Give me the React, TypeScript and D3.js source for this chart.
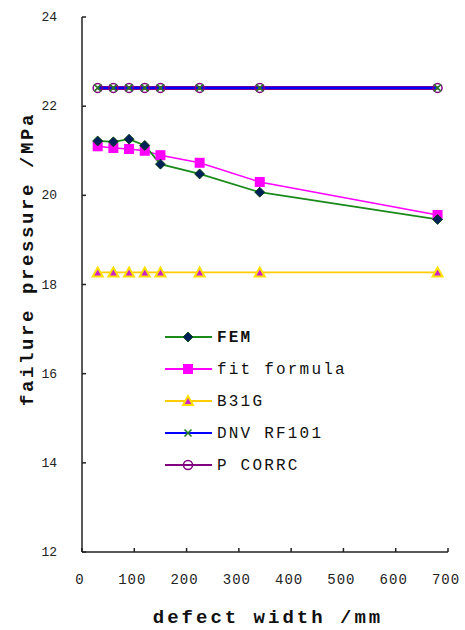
import React from 'react';
import * as d3 from 'd3';

const widths = [30, 60, 90, 120, 150, 225, 340, 680];
const femValues = [21.22, 21.2, 21.26, 21.12, 20.7, 20.48, 20.07, 19.46];
const fitValues = [21.1, 21.06, 21.04, 21.0, 20.9, 20.73, 20.3, 19.56];
const b31gValues = [18.27, 18.27, 18.27, 18.27, 18.27, 18.27, 18.27, 18.27];
const dnvValues = [22.41, 22.41, 22.41, 22.41, 22.41, 22.41, 22.41, 22.41];
const pcorrcValues = [22.41, 22.41, 22.41, 22.41, 22.41, 22.41, 22.41, 22.41];

const xTicks = [0, 100, 200, 300, 400, 500, 600, 700];
const yTicks = [12, 14, 16, 18, 20, 22, 24];

const seriesNames = ['FEM', 'fit formula', 'B31G', 'DNV RF101', 'P CORRC'];

const W = 465;
const H = 630;
const left = 82;
const right = 448;
const top = 17;
const bottom = 552;

const x = d3.scaleLinear().domain([0, 700]).range([left, right]);
const y = d3.scaleLinear().domain([12, 24]).range([bottom, top]);

const lineGen = d3
    .line<[number, number]>()
    .x(d => x(d[0]))
    .y(d => y(d[1]));

const pts = (vals: number[]) => widths.map((w, i) => [w, vals[i]] as [number, number]);

const Diamond = ({ cx, cy }: { cx: number; cy: number }) => (
    <path d={`M${cx},${cy - 5}L${cx + 5},${cy}L${cx},${cy + 5}L${cx - 5},${cy}Z`} fill="#00205a" stroke="#004400" strokeWidth={0.8} />
);
const Square = ({ cx, cy }: { cx: number; cy: number }) => (
    <rect x={cx - 5} y={cy - 5} width={10} height={10} fill="#ff00ff" />
);
const Triangle = ({ cx, cy }: { cx: number; cy: number }) => (
    <path d={`M${cx},${cy - 5}L${cx + 5},${cy + 4}L${cx - 5},${cy + 4}Z`} fill="#cc22cc" stroke="#ffe000" strokeWidth={2} />
);
const Cross = ({ cx, cy }: { cx: number; cy: number }) => (
    <path d={`M${cx - 3.5},${cy - 3.5}L${cx + 3.5},${cy + 3.5}M${cx + 3.5},${cy - 3.5}L${cx - 3.5},${cy + 3.5}`} stroke="#2a7a2a" strokeWidth={1.6} />
);
const Circle = ({ cx, cy }: { cx: number; cy: number }) => (
    <circle cx={cx} cy={cy} r={4.5} fill="none" stroke="#800080" strokeWidth={1.5} />
);

const series = [
    { name: seriesNames[0], vals: femValues, color: '#1a8a1a', Marker: Diamond, sw: 1.8 },
    { name: seriesNames[1], vals: fitValues, color: '#ff00ff', Marker: Square, sw: 1.6 },
    { name: seriesNames[2], vals: b31gValues, color: '#ffcc00', Marker: Triangle, sw: 1.8 },
    { name: seriesNames[3], vals: dnvValues, color: '#0000ff', Marker: Cross, sw: 2.4 },
    { name: seriesNames[4], vals: pcorrcValues, color: '#800080', Marker: Circle, sw: 4 },
];

// PCORRC sits under DNV
const drawOrder = [4, 3, 2, 1, 0];

export default function App() {
    const font = '"Liberation Mono", monospace';
    return (
        <svg width={W} height={H} style={{ position: 'absolute', left: 0, top: 0, background: '#fff' }}>
            <rect width={W} height={H} fill="#fff" />
            <line x1={left} y1={top} x2={left} y2={bottom} stroke="#222" strokeWidth={1.5} />
            <line x1={left} y1={bottom} x2={right} y2={bottom} stroke="#222" strokeWidth={1.5} />
            {yTicks.map(t => (
                <g key={t}>
                    <line x1={left} x2={left + 4} y1={y(t)} y2={y(t)} stroke="#222" strokeWidth={1.5} />
                    <text x={left - 25} y={y(t) + 4} textAnchor="end" fontSize={13} fontFamily={font} fill="#222">
                        {t}
                    </text>
                </g>
            ))}
            {xTicks.map(t => (
                <g key={t}>
                    <line x1={x(t)} x2={x(t)} y1={bottom} y2={bottom - 4} stroke="#222" strokeWidth={1.5} />
                    <text x={x(t) - 2} y={bottom + 32} textAnchor="middle" fontSize={14} fontFamily={font} fill="#222" letterSpacing={1}>
                        {t}
                    </text>
                </g>
            ))}
            {drawOrder.map(i => {
                const s = series[i];
                return <path key={s.name} d={lineGen(pts(s.vals)) || ''} fill="none" stroke={s.color} strokeWidth={s.sw} />;
            })}
            {drawOrder.map(i => {
                const s = series[i];
                const M = s.Marker;
                return (
                    <g key={s.name + '-m'}>
                        {pts(s.vals).map((p, j) => (
                            <M key={j} cx={x(p[0])} cy={y(p[1])} />
                        ))}
                    </g>
                );
            })}
            {series.map((s, i) => {
                const ly = 337 + i * 32;
                const M = s.Marker;
                return (
                    <g key={'leg' + i}>
                        <line x1={165} x2={212} y1={ly} y2={ly} stroke={s.color} strokeWidth={2} />
                        <M cx={188} cy={ly} />
                        <text x={217} y={ly + 5} fontSize={16} fontFamily={font} fill="#111" fontWeight={i === 0 ? 'bold' : 'normal'} letterSpacing={2.2}>
                            {s.name}
                        </text>
                    </g>
                );
            })}
            <text x={268} y={623} textAnchor="middle" fontSize={19} fontWeight="bold" fontFamily={font} fill="#111" letterSpacing={3}>
                defect width /mm
            </text>
            <text
                transform="translate(33,259) rotate(-90)"
                textAnchor="middle"
                fontSize={19}
                fontWeight="bold"
                fontFamily={font}
                fill="#111"
                letterSpacing={2.6}
            >
                failure pressure /MPa
            </text>
        </svg>
    );
}
